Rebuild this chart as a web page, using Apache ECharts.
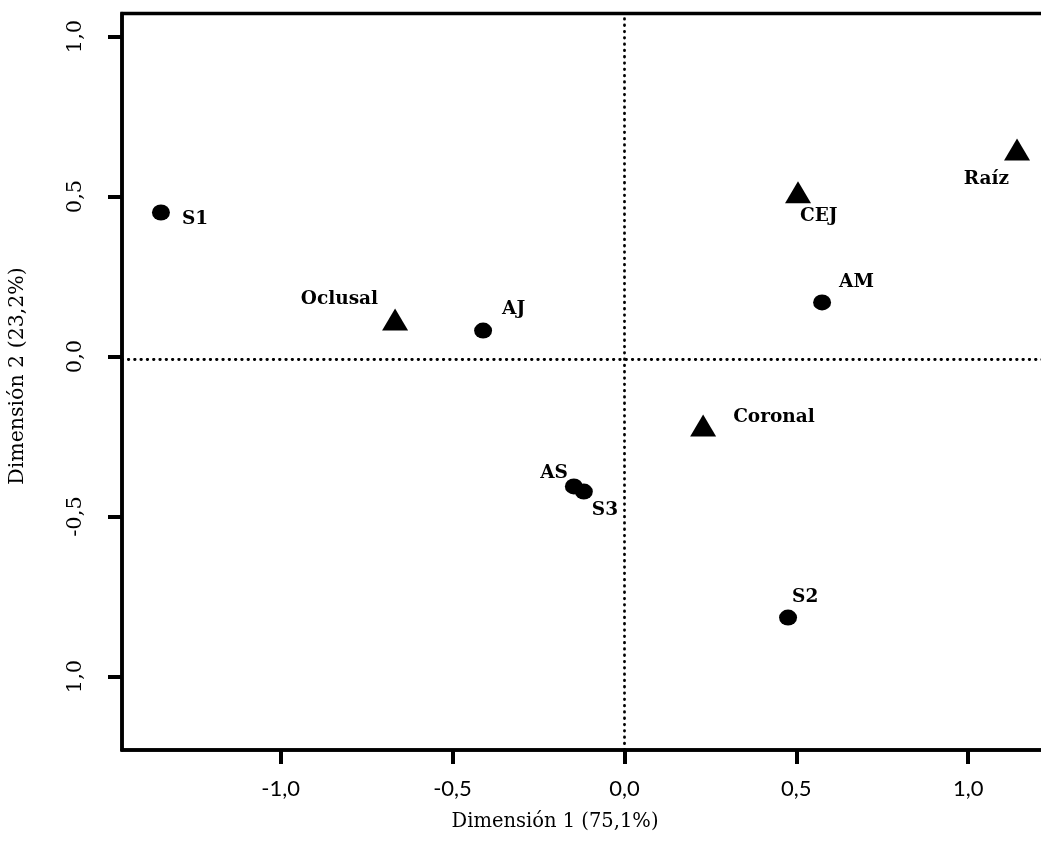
<!DOCTYPE html>
<html>
<head>
<meta charset="utf-8">
<script src="https://cdn.jsdelivr.net/npm/echarts@6/dist/echarts.min.js"></script>
<style>
  html, body { margin: 0; padding: 0; background: #ffffff; }
  #chart { width: 1041px; height: 863px; }
</style>
</head>
<body>
<div id="chart"></div>
<script>
// Row profiles (circles): coordinates on dimensions 1 and 2
const profileNames = ['S1', 'AJ', 'AM', 'AS', 'S3', 'S2'];
const profileDim1  = [-1.348, -0.411, 0.575, -0.147, -0.118, 0.476];
const profileDim2  = [0.450, 0.081, 0.169, -0.406, -0.422, -0.816];

// Column profiles (triangles): coordinates on dimensions 1 and 2
const regionNames = ['Oclusal', 'CEJ', 'Raíz', 'Coronal'];
const regionDim1  = [-0.667, 0.505, 1.142, 0.229];
const regionDim2  = [0.116, 0.513, 0.647, -0.216];

// Axis ticks and their printed labels
const xTickValues = [-1, -0.5, 0, 0.5, 1];
const xTickLabels = ['-1,0', '-0,5', '0,0', '0,5', '1,0'];
const yTickValues = [1, 0.5, 0, -0.5, -1];
const yTickLabels = ['1,0', '0,5', '0,0', '-0,5', '1,0'];

// Dotted reference lines through the origin
const hRefLine = -0.0125;
const vRefLine = 0.004;

// Axis extents
const xMin = -1.4613, xMax = 1.2379;
const yMin = -1.2297, yMax = 1.0719;

// Where each point's label sits relative to its marker
const labelPlacement = {
  'S1':      { align: 'left',  offset: [21, 7] },
  'AJ':      { align: 'left',  offset: [19, -21] },
  'AM':      { align: 'left',  offset: [17, -20] },
  'AS':      { align: 'right', offset: [-6, -13] },
  'S3':      { align: 'left',  offset: [8, 19] },
  'S2':      { align: 'left',  offset: [4, -20] },
  'Oclusal': { align: 'right', offset: [-17, -20] },
  'CEJ':     { align: 'left',  offset: [2, 24] },
  'Raíz':    { align: 'right', offset: [-8, 30] },
  'Coronal': { align: 'left',  offset: [30, -8] }
};

const labelFont = {
  fontFamily: '"DejaVu Serif", serif',
  fontWeight: 'bold',
  fontSize: 18.5,
  color: '#000'
};

function buildPoints(names, xs, ys) {
  return names.map((n, i) => ({
    name: n,
    value: [xs[i], ys[i]],
    label: Object.assign({
      show: true,
      position: 'inside',
      verticalAlign: 'middle',
      formatter: n
    }, labelFont, labelPlacement[n])
  }));
}

function tickText(values, labels) {
  return v => {
    const i = values.findIndex(t => Math.abs(t - v) < 1e-9);
    return i >= 0 ? labels[i] : '';
  };
}

const chart = echarts.init(document.getElementById('chart'), null, { renderer: 'canvas' });

chart.setOption({
  backgroundColor: '#ffffff',
  animation: false,
  grid: {
    left: 122,
    top: 13.5,
    width: 928,
    height: 736.5,
    outerBoundsMode: 'none',
    containLabel: false,
    show: true,
    borderColor: '#000',
    borderWidth: 3.5,
    backgroundColor: 'transparent'
  },
  xAxis: {
    type: 'value',
    min: xMin,
    max: xMax,
    axisLine: { show: true, onZero: false, lineStyle: { color: '#000', width: 3.5 } },
    axisTick: {
      show: true,
      customValues: xTickValues,
      length: 14,
      lineStyle: { color: '#000', width: 4 }
    },
    axisLabel: {
      show: true,
      customValues: xTickValues,
      formatter: tickText(xTickValues, xTickLabels),
      margin: 28,
      fontFamily: 'Lato, sans-serif',
      fontSize: 22,
      color: '#000'
    },
    splitLine: { show: false }
  },
  yAxis: {
    type: 'value',
    min: yMin,
    max: yMax,
    axisLine: { show: true, onZero: false, lineStyle: { color: '#000', width: 3.5 } },
    axisTick: {
      show: true,
      customValues: yTickValues,
      length: 14,
      lineStyle: { color: '#000', width: 4 }
    },
    axisLabel: {
      show: true,
      customValues: yTickValues,
      formatter: tickText(yTickValues, yTickLabels),
      rotate: 90,
      margin: 36,
      fontFamily: '"DejaVu Serif", serif',
      fontSize: 21,
      color: '#000'
    },
    splitLine: { show: false }
  },
  graphic: [
    {
      type: 'text',
      x: 555,
      y: 822,
      style: {
        text: 'Dimensión 1 (75,1%)',
        fontFamily: '"DejaVu Serif", serif',
        fontSize: 19.5,
        fill: '#000',
        align: 'center',
        verticalAlign: 'middle'
      }
    },
    {
      type: 'text',
      x: 18,
      y: 376,
      rotation: Math.PI / 2,
      style: {
        text: 'Dimensión 2 (23,2%)',
        fontFamily: '"DejaVu Serif", serif',
        fontSize: 20.5,
        fill: '#000',
        align: 'center',
        verticalAlign: 'middle'
      }
    }
  ],
  series: [
    {
      name: 'Perfiles',
      type: 'scatter',
      symbol: 'circle',
      symbolSize: [18, 16],
      itemStyle: { color: '#000', opacity: 1 },
      data: buildPoints(profileNames, profileDim1, profileDim2),
      markLine: {
        silent: true,
        symbol: ['none', 'none'],
        label: { show: false },
        lineStyle: { color: '#000', width: 2.8, type: [0.5, 5.8], cap: 'round', opacity: 1 },
        emphasis: { disabled: true },
        data: [
          { yAxis: hRefLine },
          { xAxis: vRefLine }
        ]
      },
      z: 3
    },
    {
      name: 'Regiones',
      type: 'scatter',
      symbol: 'triangle',
      symbolSize: [26, 22],
      itemStyle: { color: '#000', opacity: 1 },
      data: buildPoints(regionNames, regionDim1, regionDim2),
      z: 3
    }
  ]
});
</script>
</body>
</html>
